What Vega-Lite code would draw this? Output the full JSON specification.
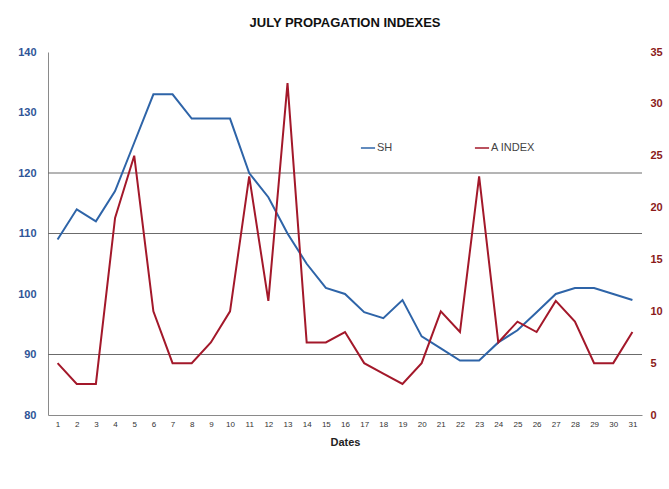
{
  "$schema": "https://vega.github.io/schema/vega-lite/v6.json",
  "width": 594,
  "height": 363,
  "autosize": {"type": "none"},
  "padding": {"left": 48, "top": 52, "right": 27, "bottom": 74},
  "background": "white",
  "config": {
    "view": {"stroke": null},
    "font": "Liberation Sans"
  },
  "title": {
    "text": "JULY PROPAGATION  INDEXES",
    "font": "Liberation Sans",
    "fontSize": 13,
    "fontWeight": "bold",
    "color": "#111111",
    "anchor": "middle",
    "offset": 16
  },
  "datasets": {
    "idx": [
      {"day": 1, "series": "SH", "value": 109}, {"day": 2, "series": "SH", "value": 114}, {"day": 3, "series": "SH", "value": 112},
      {"day": 4, "series": "SH", "value": 117}, {"day": 5, "series": "SH", "value": 125}, {"day": 6, "series": "SH", "value": 133},
      {"day": 7, "series": "SH", "value": 133}, {"day": 8, "series": "SH", "value": 129}, {"day": 9, "series": "SH", "value": 129},
      {"day": 10, "series": "SH", "value": 129}, {"day": 11, "series": "SH", "value": 120}, {"day": 12, "series": "SH", "value": 116},
      {"day": 13, "series": "SH", "value": 110}, {"day": 14, "series": "SH", "value": 105}, {"day": 15, "series": "SH", "value": 101},
      {"day": 16, "series": "SH", "value": 100}, {"day": 17, "series": "SH", "value": 97}, {"day": 18, "series": "SH", "value": 96},
      {"day": 19, "series": "SH", "value": 99}, {"day": 20, "series": "SH", "value": 93}, {"day": 21, "series": "SH", "value": 91},
      {"day": 22, "series": "SH", "value": 89}, {"day": 23, "series": "SH", "value": 89}, {"day": 24, "series": "SH", "value": 92},
      {"day": 25, "series": "SH", "value": 94}, {"day": 26, "series": "SH", "value": 97}, {"day": 27, "series": "SH", "value": 100},
      {"day": 28, "series": "SH", "value": 101}, {"day": 29, "series": "SH", "value": 101}, {"day": 30, "series": "SH", "value": 100},
      {"day": 31, "series": "SH", "value": 99},
      {"day": 1, "series": "A INDEX", "value": 5}, {"day": 2, "series": "A INDEX", "value": 3}, {"day": 3, "series": "A INDEX", "value": 3},
      {"day": 4, "series": "A INDEX", "value": 19}, {"day": 5, "series": "A INDEX", "value": 25}, {"day": 6, "series": "A INDEX", "value": 10},
      {"day": 7, "series": "A INDEX", "value": 5}, {"day": 8, "series": "A INDEX", "value": 5}, {"day": 9, "series": "A INDEX", "value": 7},
      {"day": 10, "series": "A INDEX", "value": 10}, {"day": 11, "series": "A INDEX", "value": 23}, {"day": 12, "series": "A INDEX", "value": 11},
      {"day": 13, "series": "A INDEX", "value": 32}, {"day": 14, "series": "A INDEX", "value": 7}, {"day": 15, "series": "A INDEX", "value": 7},
      {"day": 16, "series": "A INDEX", "value": 8}, {"day": 17, "series": "A INDEX", "value": 5}, {"day": 18, "series": "A INDEX", "value": 4},
      {"day": 19, "series": "A INDEX", "value": 3}, {"day": 20, "series": "A INDEX", "value": 5}, {"day": 21, "series": "A INDEX", "value": 10},
      {"day": 22, "series": "A INDEX", "value": 8}, {"day": 23, "series": "A INDEX", "value": 23}, {"day": 24, "series": "A INDEX", "value": 7},
      {"day": 25, "series": "A INDEX", "value": 9}, {"day": 26, "series": "A INDEX", "value": 8}, {"day": 27, "series": "A INDEX", "value": 11},
      {"day": 28, "series": "A INDEX", "value": 9}, {"day": 29, "series": "A INDEX", "value": 5}, {"day": 30, "series": "A INDEX", "value": 5},
      {"day": 31, "series": "A INDEX", "value": 8}
    ],
    "grid": [{"g": 90}, {"g": 110}, {"g": 120}]
  },
  "data": {"name": "idx"},
  "layer": [
    {
      "layer": [
        {
          "data": {"name": "grid"},
          "mark": {"type": "rule", "color": "#6b6b6b", "strokeWidth": 1},
          "encoding": {
            "y": {"field": "g", "type": "quantitative", "scale": {"domain": [80, 140]}}
          }
        },
        {
          "transform": [{"filter": "datum.series === 'SH'"}],
          "mark": {"type": "line", "strokeWidth": 2},
          "encoding": {
            "x": {
              "field": "day", "type": "ordinal", "sort": null, "title": "Dates",
              "axis": {
                "labelAngle": 0, "labelFontSize": 8, "labelColor": "#333333", "labelPadding": 5,
                "ticks": false, "domainColor": "#8a8a8a", "titleFontSize": 11, "titleFontWeight": "bold",
                "titleColor": "#222222", "titlePadding": 8
              }
            },
            "y": {
              "field": "value", "type": "quantitative", "scale": {"domain": [80, 140]},
              "axis": {
                "orient": "left", "title": null, "values": [80, 90, 100, 110, 120, 130, 140],
                "grid": false, "ticks": false, "domainColor": "#8a8a8a", "labelColor": "#2f5597",
                "labelFontWeight": "bold", "labelFontSize": 11, "labelPadding": 12
              }
            },
            "color": {
              "field": "series", "type": "nominal",
              "scale": {"domain": ["SH", "A INDEX"], "range": ["#2e64a8", "#a3182a"]},
              "legend": {
                "title": null, "orient": "none", "legendX": 312, "legendY": 88, "direction": "horizontal",
                "symbolType": "stroke", "symbolSize": 200, "symbolStrokeWidth": 1.5, "columnPadding": 78,
                "labelFontSize": 11, "labelColor": "#444444", "labelOffset": 1
              }
            }
          }
        }
      ]
    },
    {
      "transform": [{"filter": "datum.series === 'A INDEX'"}],
      "mark": {"type": "line", "strokeWidth": 2},
      "encoding": {
        "x": {"field": "day", "type": "ordinal", "sort": null, "title": "Dates"},
        "y": {
          "field": "value", "type": "quantitative", "scale": {"domain": [0, 35]},
          "axis": {
            "orient": "right", "title": null, "values": [0, 5, 10, 15, 20, 25, 30, 35],
            "grid": false, "ticks": false, "domain": false, "labelColor": "#8b1a1a",
            "labelFontWeight": "bold", "labelFontSize": 11, "labelPadding": 8
          }
        },
        "color": {"field": "series", "type": "nominal"}
      }
    }
  ],
  "resolve": {"scale": {"y": "independent"}}
}
